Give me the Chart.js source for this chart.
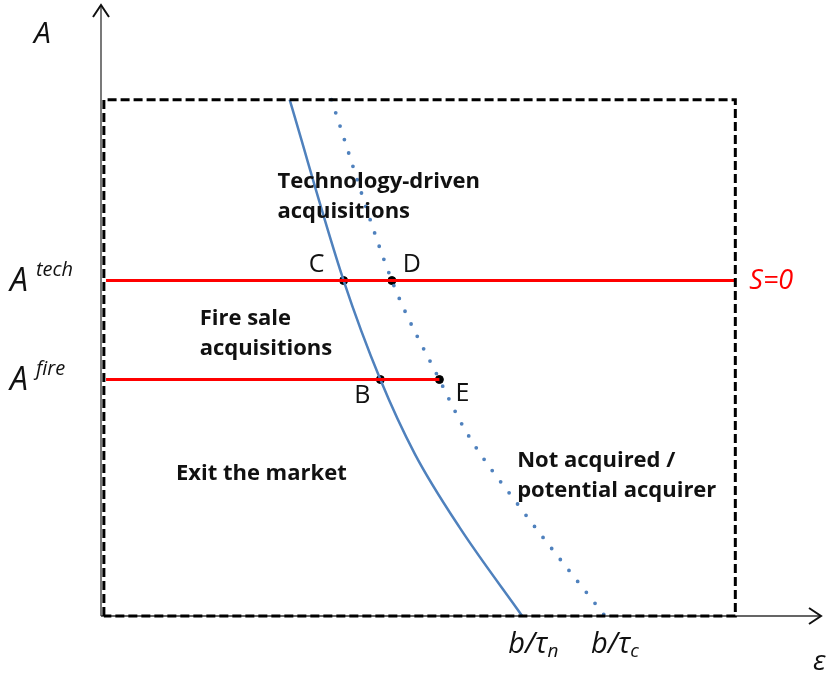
<!DOCTYPE html>
<html>
<head>
<meta charset="utf-8">
<script src="https://cdn.jsdelivr.net/npm/chart.js@4"></script>
<style>
  html, body { margin: 0; padding: 0; background: #fff; }
  #wrap { width: 826px; height: 676px; }
</style>
</head>
<body>
<div id="wrap"><canvas id="plot"></canvas></div>
<script>
// threshold levels on the A axis
const aTech = 54.9;
const aFire = 38.7;

// the dashed box (epsilon, A)
const boxX = [0.4, 0.4, 88.1, 88.1, 0.4];
const boxY = [0, 84.5, 84.5, 0, 0];

// solid curve (tau_n) and dotted curve (tau_c)
const solidX = [26.2, 33.7, 38.8, 43.6, 49.8, 58.5];
const solidY = [84.5, 54.9, 38.7, 26.5, 14.5, 0];
const dottedX = [32.0, 40.4, 47.0, 50.8, 58.0, 70.0];
const dottedY = [84.5, 54.9, 38.7, 30.0, 18.1, 0];

// red lines
const techLineX = [0.7, 88.1];
const fireLineX = [0.7, 47.0];

// marked points
const pointNames = ['C', 'D', 'B', 'E'];
const pointX = [33.7, 40.4, 38.8, 47.0];
const pointY = [aTech, aTech, aFire, aFire];

// region labels
const regionText = [
  ['Technology-driven', 'acquisitions'],
  ['Fire sale', 'acquisitions'],
  ['Exit the market'],
  ['Not acquired /', 'potential acquirer']
];
const regionX = [24.5, 13.7, 10.4, 57.8];
const regionY = [71.0, 48.7, 23.3, 25.4];

// axis labels
const yTickVals = [aTech, aFire];
const yTickSup = ['tech', 'fire'];
const xTickVals = [58.5, 70.0];
const xTickSub = ['n', 'c'];

function pts(xs, ys) {
  let out = [];
  for (let i = 0; i < xs.length; i++) out.push({x: xs[i], y: ys[i]});
  return out;
}

const blue = '#4f81bd';

const annot = {
  id: 'annot',
  beforeDatasetsDraw(chart) {
    const ctx = chart.ctx;
    const a = chart.chartArea;
    ctx.save();
    ctx.strokeStyle = '#333';
    ctx.lineWidth = 1.3;
    ctx.beginPath();
    ctx.moveTo(a.left, a.bottom);
    ctx.lineTo(a.left, a.top);
    ctx.moveTo(a.left, a.bottom);
    ctx.lineTo(a.right, a.bottom);
    ctx.stroke();
    ctx.lineWidth = 2;
    ctx.strokeStyle = '#111';
    ctx.beginPath();
    ctx.moveTo(a.left - 8, a.top + 12);
    ctx.lineTo(a.left, a.top);
    ctx.lineTo(a.left + 8, a.top + 12);
    ctx.moveTo(a.right - 12, a.bottom - 8);
    ctx.lineTo(a.right, a.bottom);
    ctx.lineTo(a.right - 12, a.bottom + 8);
    ctx.stroke();
    ctx.restore();
  },
  afterDatasetsDraw(chart) {
    const ctx = chart.ctx;
    const xs = chart.scales.x, ys = chart.scales.y;
    const a = chart.chartArea;
    ctx.save();
    ctx.textBaseline = 'middle';
    ctx.fillStyle = '#111';

    // region labels
    ctx.font = 'bold 22px "Open Sans"';
    ctx.textAlign = 'left';
    for (let i = 0; i < regionText.length; i++) {
      const px = xs.getPixelForValue(regionX[i]);
      const py = ys.getPixelForValue(regionY[i]);
      regionText[i].forEach((t, j) => ctx.fillText(t, px, py + j * 30));
    }

    // point names
    ctx.font = '25px "Open Sans"';
    ctx.textAlign = 'center';
    const off = [[-27, -16], [20, -16], [-18, 16], [23, 14]];
    for (let i = 0; i < pointNames.length; i++) {
      ctx.fillText(pointNames[i],
        xs.getPixelForValue(pointX[i]) + off[i][0],
        ys.getPixelForValue(pointY[i]) + off[i][1]);
    }

    // y axis labels
    ctx.textAlign = 'left';
    ctx.font = 'italic 30px "Open Sans"';
    ctx.fillText('A', 34, 34);
    for (let i = 0; i < yTickVals.length; i++) {
      const py = ys.getPixelForValue(yTickVals[i]);
      ctx.font = 'italic 32px "Open Sans"';
      ctx.fillText('A', 10, py + 1);
      ctx.font = 'italic 20px "Open Sans"';
      ctx.fillText(yTickSup[i], 36, py - 10);
    }

    // x axis labels
    for (let i = 0; i < xTickVals.length; i++) {
      const px = xs.getPixelForValue(xTickVals[i]);
      ctx.font = 'italic 29px "Open Sans"';
      ctx.fillText('b/\u03c4', px - 14, a.bottom + 29);
      const w = ctx.measureText('b/\u03c4').width;
      ctx.font = 'italic 19px "Open Sans"';
      ctx.fillText(xTickSub[i], px - 14 + w, a.bottom + 36);
    }
    ctx.font = 'italic 28px "Open Sans"';
    ctx.fillText('\u03b5', a.right - 8, a.bottom + 46);

    // S=0 tag
    ctx.fillStyle = '#ff0000';
    ctx.font = 'italic 27px "Open Sans"';
    ctx.fillText('S=0', xs.getPixelForValue(techLineX[1]) + 14, ys.getPixelForValue(aTech) + 1);
    ctx.restore();
  }
};

const config = {
  type: 'scatter',
  data: {
    datasets: [
      {
        data: pts(boxX, boxY),
        showLine: true, borderColor: '#000', borderWidth: 3,
        borderDash: [9, 4], pointRadius: 0, tension: 0
      },
      {
        data: pts(techLineX, [aTech, aTech]),
        showLine: true, borderColor: '#ff0000', borderWidth: 3, pointRadius: 0
      },
      {
        data: pts(fireLineX, [aFire, aFire]),
        showLine: true, borderColor: '#ff0000', borderWidth: 3, pointRadius: 0
      },
      {
        data: pts(solidX, solidY),
        showLine: true, borderColor: blue, borderWidth: 2.5, pointRadius: 0,
        cubicInterpolationMode: 'monotone'
      },
      {
        data: pts(dottedX, dottedY),
        showLine: true, borderColor: blue, borderWidth: 3.8, pointRadius: 0,
        borderDash: [0, 14], borderCapStyle: 'round',
        cubicInterpolationMode: 'monotone'
      },
      {
        data: pts(pointX, pointY),
        showLine: false, backgroundColor: '#000', borderColor: '#000',
        pointRadius: 4
      }
    ]
  },
  options: {
    responsive: true,
    maintainAspectRatio: false,
    animation: false,
    events: [],
    layout: { padding: { left: 101, right: 4, top: 2, bottom: 60 } },
    plugins: { legend: { display: false }, tooltip: { enabled: false } },
    elements: { line: { fill: false } },
    datasets: { scatter: { clip: false } },
    scales: {
      x: { type: 'linear', min: 0, max: 100, display: false },
      y: { type: 'linear', min: 0, max: 100, display: false }
    }
  },
  plugins: [annot]
};

new Chart(document.getElementById('plot').getContext('2d'), config);
</script>
</body>
</html>
